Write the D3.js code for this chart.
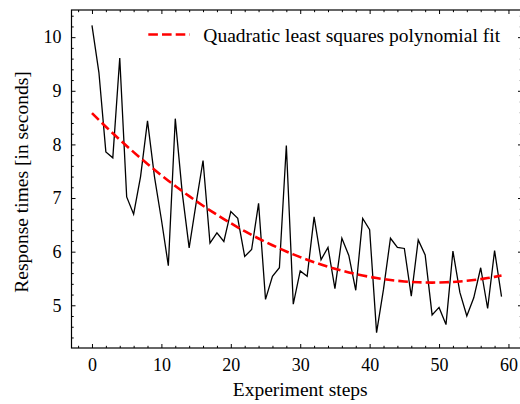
<!DOCTYPE html>
<html>
<head>
<meta charset="utf-8">
<script src="https://cdn.jsdelivr.net/npm/d3@7"></script>
<style>
  html, body { margin: 0; padding: 0; background: #fff; }
  svg { display: block; font-family: "Liberation Serif", "Times New Roman", serif; }
</style>
</head>
<body>
<svg id="chart" width="520" height="404"></svg>
<script>
// Measured response time at each experiment step
const steps = d3.range(0, 60);
const responseTimes = [
  10.22, 9.34, 7.86, 7.75, 9.61, 7.02, 6.70, 7.40, 8.44, 7.40,
  6.60, 5.74, 8.48, 7.10, 6.07, 6.90, 7.70, 6.16, 6.35, 6.19,
  6.75, 6.62, 5.91, 6.04, 6.90, 5.11, 5.54, 5.70, 7.98, 5.02,
  5.64, 5.54, 6.65, 5.85, 6.08, 5.31, 6.25, 5.93, 5.28, 6.62,
  6.41, 4.49, 5.30, 6.25, 6.08, 6.06, 5.17, 6.22, 5.94, 4.82,
  4.96, 4.64, 6.01, 5.24, 4.80, 5.14, 5.70, 4.94, 6.02, 5.16
];
const xTicks = [0, 10, 20, 30, 40, 50, 60];
const yTicks = [5, 6, 7, 8, 9, 10];
const legendLabel = "Quadratic least squares polynomial fit";

// Quadratic least-squares fit y = a + b x + c x^2 via the normal equations
function quadFit(xs, ys) {
  const S = k => d3.sum(xs, x => Math.pow(x, k));
  const T = k => d3.sum(xs, (x, i) => Math.pow(x, k) * ys[i]);
  const A = [[S(0), S(1), S(2)], [S(1), S(2), S(3)], [S(2), S(3), S(4)]];
  const B = [T(0), T(1), T(2)];
  for (let i = 0; i < 3; i++) {
    for (let j = i + 1; j < 3; j++) {
      const f = A[j][i] / A[i][i];
      for (let k = i; k < 3; k++) A[j][k] -= f * A[i][k];
      B[j] -= f * B[i];
    }
  }
  const c = [0, 0, 0];
  for (let i = 2; i >= 0; i--) {
    let s = B[i];
    for (let k = i + 1; k < 3; k++) s -= A[i][k] * c[k];
    c[i] = s / A[i][i];
  }
  return x => c[0] + c[1] * x + c[2] * x * x;
}
const fit = quadFit(steps, responseTimes);

const svg = d3.select("#chart");
const margin = { left: 71.5, right: -2, top: 10, bottom: 56 };
const W = 520, H = 404;
const tickFont = 18, labelFont = 19.5;

// Axis limits with 5% padding around the data
const xPad = (d3.max(steps) - d3.min(steps)) * 0.05;
const yPad = (d3.max(responseTimes) - d3.min(responseTimes)) * 0.05;
const x = d3.scaleLinear()
  .domain([d3.min(steps) - xPad, d3.max(steps) + xPad])
  .range([margin.left, W - margin.right]);
const y = d3.scaleLinear()
  .domain([d3.min(responseTimes) - yPad, d3.max(responseTimes) + yPad])
  .range([H - margin.bottom, margin.top]);

const x0 = x.range()[0], x1 = x.range()[1];
const y0 = y.range()[0], y1 = y.range()[1];

// Data line
const line = d3.line().x((d, i) => x(steps[i])).y(d => y(d));
svg.append("path")
  .datum(responseTimes)
  .attr("fill", "none")
  .attr("stroke", "#000")
  .attr("stroke-width", 1.3)
  .attr("d", line);

// Fitted curve
const dash = "9.6,4.1";
svg.append("path")
  .datum(steps)
  .attr("fill", "none")
  .attr("stroke", "#ff0000")
  .attr("stroke-width", 2.6)
  .attr("stroke-dasharray", dash)
  .attr("d", d3.line().x(d => x(d)).y(d => y(fit(d))));

// Inward ticks on all four sides
const majorLen = 4, minorLen = 2.2;
const xMinor = d3.range(-2, 62, 2).filter(v => v % 10 !== 0 && v >= x.domain()[0] && v <= x.domain()[1]);
const yMinor = d3.range(42, 106, 2).map(v => v / 10).filter(v => Math.round(v * 10) % 10 !== 0 && v >= y.domain()[0] && v <= y.domain()[1]);

const axisBottom = d3.axisBottom(x).tickValues(xTicks).tickSizeInner(-majorLen).tickSizeOuter(0).tickPadding(10).tickFormat(d3.format("d"));
const axisLeft = d3.axisLeft(y).tickValues(yTicks).tickSizeInner(-majorLen).tickSizeOuter(0).tickPadding(10).tickFormat(d3.format("d"));
const axisTop = d3.axisTop(x).tickValues(xTicks).tickSizeInner(-majorLen).tickSizeOuter(0).tickFormat("");
const axisRight = d3.axisRight(y).tickValues(yTicks).tickSizeInner(-majorLen).tickSizeOuter(0).tickFormat("");

const minorB = d3.axisBottom(x).tickValues(xMinor).tickSizeInner(-minorLen).tickSizeOuter(0).tickFormat("");
const minorT = d3.axisTop(x).tickValues(xMinor).tickSizeInner(-minorLen).tickSizeOuter(0).tickFormat("");
const minorL = d3.axisLeft(y).tickValues(yMinor).tickSizeInner(-minorLen).tickSizeOuter(0).tickFormat("");
const minorR = d3.axisRight(y).tickValues(yMinor).tickSizeInner(-minorLen).tickSizeOuter(0).tickFormat("");

function styleAxis(g) {
  g.select(".domain").remove();
  g.selectAll(".tick line").attr("stroke", "#000").attr("stroke-width", 1);
  g.selectAll(".tick text").attr("fill", "#000").attr("font-size", tickFont)
    .attr("font-family", "Liberation Serif, Times New Roman, serif");
}

svg.append("g").attr("transform", `translate(0,${y0})`).call(axisBottom).call(styleAxis);
svg.append("g").attr("transform", `translate(0,${y0})`).call(minorB).call(styleAxis);
svg.append("g").attr("transform", `translate(0,${y1})`).call(axisTop).call(styleAxis);
svg.append("g").attr("transform", `translate(0,${y1})`).call(minorT).call(styleAxis);
svg.append("g").attr("transform", `translate(${x0},0)`).call(axisLeft).call(styleAxis);
svg.append("g").attr("transform", `translate(${x0},0)`).call(minorL).call(styleAxis);
svg.append("g").attr("transform", `translate(${x1},0)`).call(axisRight).call(styleAxis);
svg.append("g").attr("transform", `translate(${x1},0)`).call(minorR).call(styleAxis);

// Frame
svg.append("rect")
  .attr("x", x0).attr("y", y1)
  .attr("width", x1 - x0).attr("height", y0 - y1)
  .attr("fill", "none").attr("stroke", "#000").attr("stroke-width", 1.2);

// Axis titles
svg.append("text")
  .attr("x", x(30)).attr("y", 396)
  .attr("text-anchor", "middle").attr("font-size", labelFont)
  .text("Experiment steps");
svg.append("text")
  .attr("transform", `translate(27.5,182) rotate(-90)`)
  .attr("text-anchor", "middle").attr("font-size", labelFont)
  .text("Response times [in seconds]");

// Legend
const legend = svg.append("g").attr("transform", "translate(148.3,34.5)");
legend.append("line")
  .attr("x1", 0).attr("x2", 41.5).attr("y1", 0).attr("y2", 0)
  .attr("stroke", "#ff0000").attr("stroke-width", 2.6).attr("stroke-dasharray", dash);
legend.append("text")
  .attr("x", 55).attr("y", 7.2).attr("font-size", labelFont)
  .text(legendLabel);
</script>
</body>
</html>
